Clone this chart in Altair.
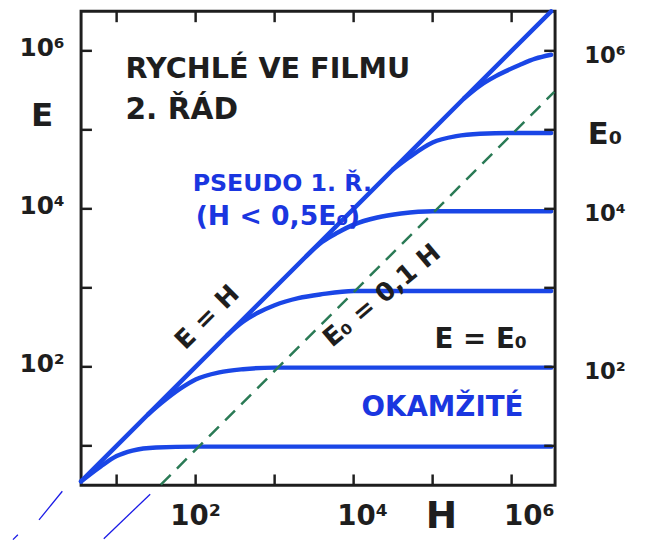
import altair as alt
import pandas as pd

# ---- data (log10 exponents) ----
diag_logH = [0.55, 6.5]
diag_logE = [0.55, 6.5]

c1_logH = [0.55, 0.8, 1.0, 1.2, 1.5, 2.0, 6.5]
c1_logE = [0.55, 0.74, 0.87, 0.94, 0.98, 0.99, 0.99]
c2_logH = [1.4, 1.6, 1.8, 2.0, 2.3, 2.6, 3.0, 6.5]
c2_logE = [1.4, 1.57, 1.72, 1.84, 1.93, 1.97, 1.99, 1.99]
c3_logH = [2.4, 2.6, 2.8, 3.0, 3.3, 3.6, 4.0, 6.5]
c3_logE = [2.4, 2.57, 2.69, 2.78, 2.87, 2.92, 2.96, 2.96]
c4_logH = [3.4, 3.6, 3.8, 4.0, 4.3, 4.6, 5.0, 5.4, 6.5]
c4_logE = [3.4, 3.58, 3.7, 3.8, 3.89, 3.94, 3.97, 3.97, 3.97]
c5_logH = [4.5, 4.7, 5.0, 5.3, 5.6, 6.0, 6.5]
c5_logE = [4.5, 4.65, 4.84, 4.92, 4.95, 4.96, 4.96]
c6_logH = [5.4, 5.6, 5.8, 6.1, 6.3, 6.5]
c6_logE = [5.4, 5.56, 5.68, 5.82, 5.9, 5.95]

dash_logH = [1.56, 6.54]
dash_logE = [0.51, 5.48]

# stray thin strokes below the frame
art_a_logH = [0.3125, 0.0175]
art_a_logE = [0.425, 0.0625]
art_b_logH = [-0.25, -0.3125]
art_b_logE = [-0.125, -0.1875]
art_c_logH = [1.425, 0.8375]
art_c_logE = [0.3875, -0.175]

tick_values = [1e1, 1e2, 1e3, 1e4, 1e5, 1e6]
label_values = [1e2, 1e4, 1e5, 1e6]
bottom_texts = ["10²", "10⁴", "H", "10⁶"]

BLUE = "#1a46e6"
TXTBLUE = "#1a36e0"
INK = "#1e1e1e"
FONT = "DejaVu Sans"

xs = alt.Scale(type="log", domain=[10 ** 0.55, 10 ** 6.55], nice=False)
ys = alt.Scale(type="log", domain=[10 ** 0.5, 10 ** 6.5], nice=False)


def frame(pairs, name):
    rows = []
    for i, (lh, le) in enumerate(pairs):
        rows.append({"series": name, "H": 10 ** lh, "E": 10 ** le, "ord": i})
    return rows


rows = []
for name, lh, le in [
    ("E=H", diag_logH, diag_logE),
    ("c1", c1_logH, c1_logE),
    ("c2", c2_logH, c2_logE),
    ("c3", c3_logH, c3_logE),
    ("c4", c4_logH, c4_logE),
    ("c5", c5_logH, c5_logE),
    ("c6", c6_logH, c6_logE),
]:
    rows += frame(zip(lh, le), name)
curves_df = pd.DataFrame(rows)

left_axis = alt.Axis(
    orient="left", values=label_values,
    labelExpr="datum.value == 1000000 ? '10⁶' : datum.value == 100000 ? 'E' : datum.value == 10000 ? '10⁴' : datum.value == 100 ? '10²' : ''",
    ticks=False, domain=False, grid=False, title=None,
    labelAlign="center", labelBaseline="middle", labelPadding=40,
    labelOffset={"condition": {"test": "datum.value == 100000", "value": -14}, "value": -3},
    labelFontSize={"condition": {"test": "datum.value == 100000", "value": 33}, "value": 25},
    labelFont=FONT, labelFontWeight="bold", labelColor=INK, labelOverlap=False,
)
right_axis = alt.Axis(
    orient="right", values=label_values,
    labelExpr="datum.value == 1000000 ? '10⁶' : datum.value == 100000 ? 'E₀' : datum.value == 10000 ? '10⁴' : datum.value == 100 ? '10²' : ''",
    ticks=False, domain=False, grid=False, title=None,
    labelAlign="center", labelBaseline="middle", labelPadding=50, labelOffset=5,
    labelFontSize={"condition": {"test": "datum.value == 100000", "value": 31}, "value": 23},
    labelFont=FONT, labelFontWeight="bold", labelColor=INK, labelOverlap=False,
)

curves = alt.Chart(curves_df).mark_line(
    color=BLUE, strokeWidth=4.5, interpolate="monotone", strokeCap="round", strokeJoin="round"
).encode(
    x=alt.X("H:Q", scale=xs, axis=None),
    y=alt.Y("E:Q", scale=ys, axis=left_axis),
    detail="series:N",
    order="ord:Q",
)

dash_df = pd.DataFrame({"H": [10 ** v for v in dash_logH], "E": [10 ** v for v in dash_logE]})
dashed = alt.Chart(dash_df).mark_line(color="#2a7a55", strokeWidth=2.5, strokeDash=[14, 9]).encode(
    x=alt.X("H:Q", scale=xs, axis=None), y=alt.Y("E:Q", scale=ys, axis=None)
)

art_rows = []
for name, lh, le in [("a", art_a_logH, art_a_logE), ("b", art_b_logH, art_b_logE), ("c", art_c_logH, art_c_logE)]:
    art_rows += frame(zip(lh, le), name)
art_df = pd.DataFrame(art_rows)
stray = alt.Chart(art_df).mark_line(color="#1a1ae6", strokeWidth=1.3, clip=False).encode(
    x=alt.X("H:Q", scale=xs, axis=None), y=alt.Y("E:Q", scale=ys, axis=None),
    detail="series:N", order="ord:Q",
)

tick_df = pd.DataFrame({"v": tick_values})
tk = dict(color=INK, strokeWidth=2.5)
left_ticks = alt.Chart(tick_df).mark_rule(**tk).encode(
    y=alt.Y("v:Q", scale=ys, axis=None), x=alt.value(0), x2=alt.value(11))
right_ticks = alt.Chart(tick_df).mark_rule(**tk).encode(
    y=alt.Y("v:Q", scale=ys, axis=right_axis), x=alt.value(469), x2=alt.value(480))
bottom_ticks = alt.Chart(tick_df).mark_rule(**tk).encode(
    x=alt.X("v:Q", scale=xs, axis=None), y=alt.value(480), y2=alt.value(469))
top_ticks = alt.Chart(tick_df).mark_rule(**tk).encode(
    x=alt.X("v:Q", scale=xs, axis=None), y=alt.value(0), y2=alt.value(11))


def bottom_label(text, value, size, dx):
    df = pd.DataFrame({"v": [value], "t": [text]})
    return alt.Chart(df).mark_text(
        font=FONT, fontWeight="bold", fontSize=size, color=INK, align="center",
        baseline="middle", dx=dx, clip=False,
    ).encode(x=alt.X("v:Q", scale=xs, axis=None), y=alt.value(512), text="t:N")


bottom_labels = [
    bottom_label(bottom_texts[0], label_values[0], 28, 0),
    bottom_label(bottom_texts[1], label_values[1], 28, 9),
    bottom_label(bottom_texts[2], label_values[2], 38, 9),
    bottom_label(bottom_texts[3], label_values[3], 28, 18),
]


def note(text, lh, le, size, color, angle=0, align="left", baseline="alphabetic"):
    df = pd.DataFrame({"H": [10 ** lh], "E": [10 ** le], "t": [text]})
    return alt.Chart(df).mark_text(
        font=FONT, fontWeight="bold", fontSize=size, color=color, angle=angle,
        align=align, baseline=baseline,
    ).encode(
        x=alt.X("H:Q", scale=xs, axis=None), y=alt.Y("E:Q", scale=ys, axis=None), text="t:N"
    )


notes = [
    note("RYCHLÉ VE FILMU", 1.1125, 5.6625, 29, INK),
    note("2. ŘÁD", 1.1125, 5.1375, 30, INK),
    note("PSEUDO 1. Ř.", 1.9625, 4.225, 24, TXTBLUE),
    note("(H < 0,5E₀)", 2.0, 3.79, 27, TXTBLUE),
    note("E = H", 2.15, 2.625, 26, INK, angle=315, align="center", baseline="middle"),
    note("E₀  =  0,1 H", 4.36, 2.9, 26, INK, angle=320, align="center", baseline="middle"),
    note("E = E₀", 5.025, 2.2375, 28, INK),
    note("OKAMŽITÉ", 4.1, 1.375, 28, TXTBLUE),
]

chart = alt.layer(
    curves, dashed, stray, left_ticks, right_ticks, bottom_ticks, top_ticks,
    *bottom_labels, *notes
).resolve_axis(y="independent").properties(
    width=480, height=480,
    autosize=alt.AutoSizeParams(type="none"),
    padding={"left": 74, "top": 0, "right": 86, "bottom": 54},
    background="white",
).configure_view(stroke=INK, strokeWidth=3)

chart.save("out.html", embed_options={"renderer": "svg", "actions": False})
